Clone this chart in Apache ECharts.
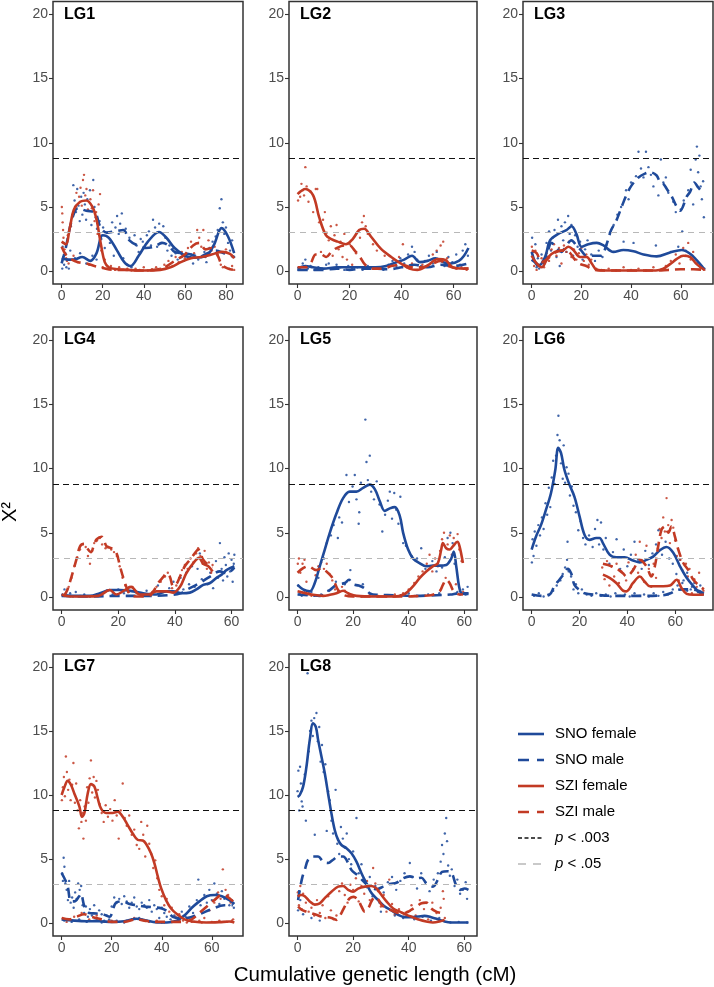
<!DOCTYPE html>
<html><head><meta charset="utf-8">
<script src="https://cdn.jsdelivr.net/npm/echarts@6/dist/echarts.min.js"></script>
<style>html,body{margin:0;padding:0;background:#fff}#c{width:714px;height:987px}</style>
</head><body><div id="c"></div>
<script>
// ---------------- DATA ----------------
const PANEL_NAMES = ['LG1','LG2','LG3','LG4','LG5','LG6','LG7','LG8'];
const PANEL_LENGTH = [84.1, 65.7, 69.5, 61, 61.5, 72.2, 69, 61.5];
const X_TICKS = [0, 20, 40, 60, 80];
const Y_TICKS = [0, 5, 10, 15, 20];
const THRESH_003 = 8.8;
const THRESH_05 = 3.0;
const LEGEND_LABELS = ['SNO female','SNO male','SZI female','SZI male','p < .003','p < .05'];

// LG1
const LG1_SNO_PTS = [[0.3,0.2],[0.8,1.1],[1.2,0.5],[1.8,1.4],[2.3,0.3],[2.9,0.9],[3.5,0.2],[4.2,1.6],[0.5,1.9],[5.2,4.2],[5.7,6.7],[6.3,5.5],[7.0,4.6],[7.6,6.4],[8.2,5.1],[8.8,3.9],[9.5,5.8],[10.1,4.4],[10.7,6.1],[11.3,5.2],[11.9,4.0],[12.5,5.6],[13.2,4.7],[13.8,6.3],[14.5,3.6],[15.4,7.1],[16.0,5.0],[16.6,4.2],[17.2,3.3],[6.5,1.0],[9,1.4],[12,0.6],[15,1.2],[17,0.9],[18.5,3.9],[19.3,2.5],[20.2,3.4],[21.0,1.8],[22.3,3.0],[23.5,2.2],[24.6,3.8],[25.4,1.2],[26.2,3.4],[27.0,4.3],[27.8,2.9],[28.5,3.7],[29.3,4.5],[30.0,1.0],[31.2,3.3],[32,0.5],[33,2.6],[34,0.3],[35.5,2.8],[36.5,2.0],[37.5,1.5],[38.5,2.5],[39.5,2.3],[40.5,1.9],[41.5,2.8],[42.5,3.1],[43.5,2.0],[44.5,4.0],[45.5,3.4],[46.5,1.9],[47.5,3.7],[48.5,2.2],[49.5,3.5],[50.5,2.6],[51.5,1.6],[52.5,2.0],[53.5,1.2],[54.5,1.8],[55.5,1.4],[56.5,0.9],[57.5,1.5],[58.5,1.1],[59.5,0.8],[60.5,1.3],[62,1.0],[63,1.3],[64,0.6],[65,1.2],[66.5,0.9],[68,1.1],[69.5,1.5],[70.5,0.7],[72,1.8],[73.5,2.3],[75,2.7],[76,3.2],[77,4.9],[77.8,5.6],[78.5,3.8],[79.2,2.9],[80,3.4],[81,2.2],[82,1.6],[83,2.4],[84,1.1]];
const LG1_SZI_PTS = [[0.1,5.0],[0.3,4.5],[0.5,3.8],[0.7,3.2],[0.9,2.6],[1.1,2.2],[1.4,1.7],[1.8,1.3],[2.2,1.0],[2.6,0.8],[3,2.8],[3.4,0.6],[4.5,3.5],[5.2,4.4],[5.8,1.2],[6.5,5.0],[7.2,6.1],[7.8,0.7],[8.5,5.8],[9.2,6.5],[9.8,5.1],[10.4,7.1],[10.9,7.5],[11.5,5.9],[12.1,6.4],[12.8,4.8],[13.4,0.5],[14.0,5.6],[14.7,4.9],[15.3,6.3],[16.0,3.9],[16.8,4.6],[17.5,2.9],[18.0,5.2],[18.7,6.0],[19.3,1.6],[20,0.3],[21,0.9],[22,0.2],[24,0.4],[26,0.1],[28,0.3],[30,0.1],[32,0.2],[34,0.05],[36,0.2],[38,0.1],[40,0.3],[42,0.05],[44,0.15],[46,0.3],[48,0.2],[50,0.5],[52,0.8],[54,0.4],[55.5,1.1],[57,0.7],[58.5,1.5],[60,1.0],[61.5,1.8],[63,2.3],[64.5,1.4],[66,3.2],[67,2.6],[68,1.9],[69,3.2],[70,1.1],[71.5,2.4],[73,1.6],[74.5,1.9],[76,1.3],[77.5,0.5],[78.5,0.3],[80,1.7],[81.5,0.2],[83,0.4],[84,0.1]];
const LG1_SNO_F = [[0,1.0],[3,0.9],[6,0.9],[10,1.1],[14,0.8],[17,1.4],[20,2.8],[23,2.6],[27,1.6],[30.5,0.7],[33.5,0.4],[37.5,1.2],[42,2.3],[47.4,3.05],[51,2.6],[55,1.8],[60,1.2],[64,1.05],[70,1.15],[74,2.0],[77.9,3.35],[81,2.7],[84,1.4]];
const LG1_SNO_M = [[0,0.6],[2,1.8],[5,4.0],[8,4.9],[12,4.7],[16,4.6],[19,3.4],[22,3.0],[26,3.1],[30,3.2],[33,2.4],[37,2.0],[41,1.8],[45,1.9],[49,2.2],[52,2.0],[55,1.5],[59,1.4],[63,1.3],[67,1.1],[71,1.4],[75,1.6],[79,1.4],[84,1.1]];
const LG1_SZI_F = [[0,2.3],[2,2.1],[4,3.4],[6,4.8],[9,5.4],[12,5.5],[15,5.0],[17,4.0],[19,2.2],[21,0.7],[23,0.3],[27,0.15],[32,0.1],[40,0.05],[48,0.1],[53,0.3],[58,0.7],[63,1.0],[68,1.1],[73,1.3],[78,1.5],[82,1.35],[84,1.0]];
const LG1_SZI_M = [[0,1.9],[2,1.3],[5,0.9],[8,0.7],[12,0.6],[16,0.4],[20,0.25],[25,0.1],[30,0.1],[38,0.05],[45,0.1],[50,0.3],[55,0.8],[60,1.3],[64,2.0],[67,2.2],[70,1.7],[73,1.8],[76,1.2],[78,0.5],[81,0.2],[84,0.1]];

// LG2
const LG2_SNO_PTS = [[0.3,0.1],[1,0.3],[2,0.6],[3,0.9],[4,0.2],[5,0.4],[6.5,0.1],[8,0.3],[9.5,0.2],[11,0.5],[12,0.6],[13.5,0.2],[15,0.5],[16.5,0.3],[18,0.1],[19.5,0.4],[21,0.2],[23,0.3],[25,0.1],[27,0.4],[29,0.2],[31,0.3],[33,0.1],[35,0.5],[36.5,0.8],[38,0.4],[39.5,1.0],[41,0.6],[42.5,1.3],[44,1.9],[45,1.5],[46,0.9],[47.5,0.4],[49,0.8],[50.5,1.2],[52,0.6],[53.5,1.5],[55,0.9],[56.5,0.4],[58,1.1],[59.5,0.7],[61,1.3],[62.5,0.5],[63.5,1.6],[64.5,2.1],[65.5,1.2]];
const LG2_SZI_PTS = [[0.2,5.5],[0.6,6.1],[1.0,5.8],[1.5,6.8],[2.0,6.3],[2.5,5.9],[3.0,8.1],[3.5,6.6],[4.2,5.4],[5.0,6.2],[6.0,4.6],[7.0,6.4],[7.6,6.4],[8.3,3.8],[9.0,1.5],[9.8,4.0],[10.5,4.6],[11.2,3.0],[12,2.4],[12.8,3.5],[13.5,1.2],[14.2,2.8],[15.0,3.6],[15.8,1.7],[16.5,2.3],[17.3,1.1],[18,2.9],[19,0.9],[20,2.1],[21,0.5],[22.5,1.4],[24,2.6],[24.8,3.8],[25.5,4.3],[26.2,3.5],[27,2.9],[28,0.3],[29,2.1],[30.5,1.6],[32,0.2],[33.5,1.2],[35,0.4],[37,0.9],[39,1.1],[40.5,2.1],[42,0.3],[44,0.6],[46,0.1],[48,0.5],[50,0.8],[52,1.3],[53.5,1.6],[55,2.0],[56,2.3],[57.5,1.0],[59,0.4],[61,0.2],[63,0.3],[65,0.1]];
const LG2_SNO_F = [[0,0.2],[3,0.4],[6,0.3],[10,0.2],[15,0.3],[20,0.3],[25,0.3],[30,0.3],[34,0.4],[38,0.7],[41,0.9],[44,1.2],[47,0.7],[50,0.8],[53,1.0],[56,0.7],[59,0.6],[62,0.8],[64,1.2],[65.7,1.8]];
const LG2_SNO_M = [[0,0.1],[5,0.1],[10,0.1],[15,0.2],[20,0.1],[25,0.2],[30,0.2],[35,0.15],[40,0.3],[45,0.5],[50,0.3],[55,0.5],[60,0.4],[65.7,0.6]];
const LG2_SZI_F = [[0,6.0],[3,6.4],[6,5.9],[8.3,4.2],[10.9,2.8],[13,2.5],[15.4,2.3],[18.6,2.1],[21.2,2.5],[23.7,3.2],[25.6,3.3],[28.2,2.7],[32,1.75],[36,1.1],[39.7,0.6],[43,0.2],[46,0.1],[50,0.45],[54,0.95],[57,0.85],[59.6,0.3],[64,0.2],[65.7,0.2]];
const LG2_SZI_M = [[0,0.3],[3,0.3],[5,0.6],[7,1.3],[9,1.3],[11,1.1],[13,1.5],[15,1.8],[18,2.0],[20,2.0],[22,1.6],[24,1.1],[26,0.5],[29,0.2],[33,0.2],[36,0.4],[40,0.5],[44,0.3],[48,0.3],[52,0.6],[55,0.8],[58,0.4],[62,0.2],[65.7,0.2]];

// LG3
const LG3_SNO_PTS = [[0.2,2.6],[0.6,1.5],[1,0.8],[1.5,2.1],[2,0.3],[2.5,1.0],[3,0.2],[4,1.3],[5,0.9],[6,2.2],[7,3.1],[7.8,1.6],[8.5,2.6],[9.2,3.2],[10,1.1],[10.6,4.0],[11.3,0.4],[12,3.5],[12.7,2.4],[13.4,3.8],[14,1.5],[14.7,4.3],[15.3,2.9],[16,3.6],[16.7,1.2],[17.5,2.8],[18.5,1.9],[19.5,2.3],[20.5,0.9],[21.5,1.7],[22.5,2.4],[24,1.3],[25.5,0.8],[27,1.6],[28.5,1.1],[30,2.0],[31.5,3.0],[33,3.6],[34.5,4.4],[36,5.0],[37,2.3],[38,6.3],[39,5.6],[40,6.9],[41,2.2],[42,7.4],[43,9.3],[44,8.0],[45,7.3],[46,9.3],[47,8.1],[48,7.5],[49,6.6],[50,2.0],[51,5.9],[52,8.7],[53,6.9],[54,7.3],[55,6.1],[56,1.5],[57,5.4],[58,4.6],[59,1.9],[60,4.8],[60.6,3.1],[61.2,5.5],[62,1.6],[63,6.3],[64,7.9],[65,5.2],[66,8.7],[66.5,9.7],[67,7.7],[67.5,9.0],[68,6.6],[68.5,5.6],[69,7.0],[69.3,4.2],[69.5,0.2]];
const LG3_SZI_PTS = [[0.1,1.9],[0.5,1.2],[1,0.4],[1.5,1.6],[2,0.1],[3,0.5],[4,1.0],[5,0.3],[6,1.4],[7,0.8],[8,1.7],[9,2.1],[10,1.2],[11,1.8],[12,0.6],[13,2.0],[14,1.5],[15,2.3],[16,1.1],[17,1.7],[18,0.9],[19,1.4],[20,1.8],[21,0.8],[22,1.3],[23,0.5],[24,0.9],[26,0.2],[28,0.1],[31,0.2],[34,0.05],[37,0.3],[40,0.1],[43,0.2],[46,0.05],[49,0.3],[52,0.1],[54,0.4],[56,0.8],[58,1.3],[59.5,0.6],[61,1.8],[62,1.2],[63,2.2],[64,0.9],[65,1.5],[66.5,0.6],[68,0.3],[69.5,0.1]];
const LG3_SNO_F = [[0,1.5],[2.7,0.4],[5.4,1.1],[7.4,2.4],[10.7,2.9],[14,3.2],[16.1,3.5],[18,2.9],[20.1,1.9],[22.8,2.1],[26.2,2.2],[28.9,2.0],[32.9,1.5],[36.9,1.65],[41,1.55],[45,1.3],[50.3,1.15],[55.7,1.45],[60.4,1.65],[63.8,1.35],[66.4,0.85],[69.5,0.15]];
const LG3_SNO_M = [[0,0.9],[2,0.6],[4,0.3],[6,1.2],[8,2.2],[10,1.8],[12,1.5],[14,2.0],[16,2.4],[18,2.0],[20,1.6],[22,1.2],[25,1.2],[28,1.2],[30,2.0],[32,3.2],[34,3.9],[36.2,5.0],[38.3,6.0],[40.3,6.7],[43,7.3],[45.6,7.6],[47.7,7.7],[50.3,7.45],[51.7,6.9],[53,6.8],[54.4,6.4],[56.4,5.8],[58.4,5.0],[59.7,4.7],[62.4,5.8],[63.8,6.2],[65.4,6.9],[67.1,6.5],[69.3,6.0]];
const LG3_SZI_F = [[0,1.2],[2,0.6],[4,0.3],[6.7,1.1],[9.4,1.5],[12.8,1.65],[14.8,1.9],[16.8,1.65],[19.5,1.1],[22.1,1.1],[24.2,0.6],[26.2,0.1],[30,0.05],[40,0.05],[50,0.05],[53,0.2],[55.7,0.55],[58.4,0.95],[61,1.2],[63.8,1.1],[66.4,0.55],[69.5,0.1]];
const LG3_SZI_M = [[0,1.6],[2,1.4],[4,0.7],[6,0.9],[9,1.4],[12,1.6],[15,1.5],[17,1.0],[19,0.6],[22,0.4],[25,0.1],[30,0.05],[40,0.05],[50,0.05],[55,0.1],[60,0.15],[65,0.15],[69.5,0.1]];

// LG4
const LG4_SNO_PTS = [[0.3,0.2],[1,0.6],[2,0.1],[3,0.3],[4,0.05],[5,0.4],[6.5,0.1],[8,0.2],[10,0.05],[12,0.15],[14,0.3],[16,0.5],[18,0.2],[20,0.6],[22,0.3],[24,0.8],[26,0.4],[28,0.2],[30,0.5],[32,0.3],[34,0.9],[36,0.4],[38,0.7],[39.5,1.2],[41,0.3],[42,1.5],[43,0.6],[44,1.9],[45,1.0],[46,2.4],[47,0.8],[48,2.2],[48.8,3.4],[49.5,1.4],[50.5,2.6],[51.5,1.0],[52.5,1.9],[53.5,0.7],[54.5,2.8],[55.2,1.5],[55.9,4.2],[56.5,2.2],[57,1.3],[57.5,3.1],[58,2.5],[58.5,1.6],[59,3.4],[59.5,2.0],[60,2.9],[60.4,1.2],[60.8,2.6],[61,3.3]];
const LG4_SZI_PTS = [[0.5,0.1],[1.5,0.3],[2.5,0.8],[3.5,1.5],[4.5,2.4],[5.5,3.1],[6.5,3.7],[7.5,4.1],[8.5,3.9],[9.3,3.2],[10,2.6],[10.8,3.6],[11.5,4.2],[12.5,4.4],[13.5,4.6],[14.3,4.1],[15.5,3.8],[16.5,3.9],[17.5,3.7],[18.5,3.5],[19.5,3.2],[20.5,2.4],[21.5,1.5],[22.5,0.9],[23.5,0.4],[25,0.8],[26.5,0.3],[28,0.1],[30,0.2],[32,0.4],[33.5,0.8],[35,1.2],[36.5,1.6],[37.5,1.9],[39,0.7],[40.5,0.9],[41.5,1.5],[42.5,2.1],[43.5,2.5],[44.5,2.2],[45.5,3.0],[46.5,2.7],[47.5,3.4],[48.2,3.8],[49,3.2],[49.8,2.6],[50.5,3.6],[51.3,2.2],[52,2.7],[52.8,1.9],[53.3,2.5]];
const LG4_SNO_F = [[0,0.15],[5,0.1],[10,0.1],[13.5,0.3],[17,0.55],[20.6,0.55],[25.3,0.45],[28.8,0.3],[33.5,0.2],[37,0.45],[39.4,0.45],[42.4,0.3],[45.3,0.35],[47.6,0.6],[50,0.95],[52.4,1.1],[54.7,1.5],[56.5,1.75],[58.2,2.1],[61,2.4]];
const LG4_SNO_M = [[0,0.1],[10,0.05],[20,0.1],[30,0.1],[38,0.15],[42,0.3],[44,0.55],[48.8,1.1],[52.4,1.6],[55.9,2.0],[58.2,1.85],[61,2.3]];
const LG4_SZI_F = [[0,0.2],[3,0.05],[8,0.05],[13,0.1],[17,0.55],[19.4,0.2],[22,0.5],[24.5,0.8],[27.6,0.2],[30.6,0.2],[33.5,0.45],[37,0.45],[39.4,0.35],[41.8,0.8],[44,1.85],[46.5,2.65],[48.5,3.05],[50,2.6],[51.8,2.4],[53.3,2.0]];
const LG4_SZI_M = [[0.6,0.05],[1.8,0.45],[3.5,1.6],[5.3,3.0],[6.5,3.95],[7.9,4.15],[9,3.8],[10.3,3.5],[11.5,4.1],[12.4,4.5],[14.1,4.7],[15.9,3.95],[17.6,3.8],[19.4,3.4],[20.6,2.4],[22,1.35],[23.5,0.45],[24.7,0.1],[28,0.05],[31,0.1],[32.4,0.45],[34.1,1.1],[36,1.6],[37,1.85],[38.2,1.6],[39.4,0.85],[40.5,1.0],[41.8,1.6],[43.5,2.4],[45.3,2.9],[47,3.4],[48.2,3.7],[50,2.9],[51.8,2.5],[53.3,2.3]];

// LG5
const LG5_SNO_PTS = [[0.2,0.9],[0.8,0.3],[1.5,0.1],[2.5,0.5],[3.5,0.2],[5,0.4],[6,0.1],[7.5,1.5],[8.5,0.2],[9.5,3.0],[10.5,4.2],[11,0.5],[12,4.8],[13,5.6],[13.8,1.2],[14.5,4.6],[15,6.2],[16,5.8],[17,1.0],[17.6,9.5],[18.5,7.4],[19,2.1],[19.8,8.6],[20.6,9.5],[21.2,7.6],[22,5.7],[22.2,6.6],[22.8,8.9],[23.5,1.0],[24.4,13.8],[24.8,10.5],[25.3,9.1],[26,11.0],[26.5,8.2],[27.5,7.6],[28.5,9.0],[29.5,7.2],[30.5,5.1],[31.5,6.4],[32.5,7.5],[33.2,8.2],[34,6.1],[34.8,8.1],[35.5,6.8],[36.3,5.7],[37,7.8],[38,4.2],[39,4.0],[40,0.3],[41,3.2],[42,0.1],[43,3.0],[44.5,3.8],[46,2.2],[47,0.2],[48.5,2.8],[50,2.0],[51,0.3],[52,2.3],[53,3.1],[54,4.6],[55,5.0],[55.8,4.2],[56.5,2.6],[57.5,0.4],[58.5,0.2],[59.5,0.6],[60.5,0.2],[61.2,0.8]];
const LG5_SZI_PTS = [[0.1,2.6],[0.5,3.0],[1,1.9],[1.8,2.6],[2.5,2.9],[3.2,1.2],[4,0.3],[5,0.1],[6.5,1.7],[7.5,2.4],[8.5,2.7],[9.5,2.2],[10.5,2.6],[11.5,1.8],[12.5,1.3],[13.5,0.6],[14.5,0.4],[16,0.8],[17,0.5],[18.5,0.2],[20,0.1],[23,0.05],[26,0.2],[29,0.1],[32,0.05],[35,0.2],[38,0.3],[40,0.6],[42,1.1],[43.5,1.6],[45,2.0],[46.5,2.6],[47.5,3.3],[48.5,2.0],[49.5,3.0],[50.5,2.4],[51.3,3.6],[52,4.5],[52.7,5.0],[53.3,1.5],[54,4.1],[54.8,4.8],[55.5,3.3],[56.2,4.6],[57,1.0],[57.6,4.9],[58.2,3.7],[59,2.8],[59.6,0.4]];
const LG5_SNO_F = [[0,0.95],[2,0.6],[4.4,0.45],[6.2,1.1],[8,2.4],[9.8,3.7],[11.6,5.0],[14,6.5],[16.4,7.7],[18.8,8.2],[21.2,8.2],[23.6,8.5],[26,8.75],[27.8,8.4],[29.6,7.45],[31.4,6.7],[33.2,6.9],[35,7.0],[36.8,6.3],[38,5.0],[39.8,3.7],[41.6,3.0],[43.9,2.65],[46.3,2.4],[48.7,2.45],[51.1,2.45],[53.5,2.5],[55.3,3.0],[56.2,3.55],[57.1,2.4],[58.1,0.85],[58.9,0.3],[60,0.25],[61.5,0.25]];
const LG5_SNO_M = [[0,0.2],[4,0.15],[8,0.1],[11.6,0.55],[14,0.95],[17,1.1],[18.5,1.35],[20,1.0],[22,0.9],[24,0.7],[26,0.3],[28.4,0.18],[35,0.15],[42,0.1],[50,0.15],[55,0.2],[58,0.3],[61.5,0.3]];
const LG5_SZI_F = [[0,0.45],[2,0.35],[5.6,0.18],[9.2,0.1],[11.6,0.18],[14,0.3],[16.4,0.5],[18.2,0.3],[21.2,0.1],[28,0.05],[35,0.05],[38,0.18],[39.8,0.45],[41.6,0.85],[44,1.5],[46.3,2.0],[48.7,2.4],[50.5,2.65],[51.7,3.7],[52.3,4.2],[53.5,3.8],[54.7,3.7],[55.9,3.95],[57.5,4.3],[58.3,3.95],[59.5,2.65]];
const LG5_SZI_M = [[0,1.9],[2,2.25],[3.8,2.4],[6.8,2.1],[8.6,2.25],[10.4,2.0],[12.2,1.6],[13.4,1.1],[14.6,0.55],[16.4,0.18],[20,0.05],[30,0.05],[40,0.05],[44,0.1],[48,0.15],[51.1,0.45],[52.3,0.95],[53.5,1.35],[54.7,1.1],[55.9,0.55],[57.1,0.3],[58.3,0.2],[59.5,0.2]];

// LG6
const LG6_SNO_PTS = [[0.1,2.7],[0.4,4.5],[0.8,3.2],[1.3,5.1],[2,4.0],[2.8,5.6],[3.5,4.8],[4.3,6.2],[5,5.3],[5.8,7.3],[6.5,6.4],[7.2,8.5],[7.8,7.0],[8.4,9.3],[9,10.6],[9.6,8.8],[10.2,11.0],[10.8,12.6],[11.2,14.1],[11.7,12.2],[12.3,10.4],[13.0,9.2],[13.4,11.8],[14,8.9],[14.6,10.1],[15,4.3],[15.4,9.6],[16,7.9],[16.8,8.6],[17.5,7.1],[18.5,6.6],[19.5,5.2],[20.5,5.9],[21.5,4.6],[22.5,4.1],[24,4.8],[25.5,3.9],[26.5,5.3],[27.5,6.0],[28.2,4.1],[29,5.8],[30,3.7],[31,4.6],[32.5,2.6],[34,3.5],[35.5,4.5],[37,2.2],[38.5,3.7],[40,2.4],[41.5,3.3],[43,4.3],[44.5,2.9],[46,2.2],[47.5,3.6],[49,2.5],[50.5,3.4],[52,4.1],[53,5.2],[54.5,3.3],[56,4.3],[57.5,3.0],[59,2.6],[60.5,1.8],[62,2.9],[63.5,1.3],[65,1.9],[66.5,0.6],[68,1.1],[69.5,0.4],[70.5,0.9],[71.5,0.2],[1,0.1],[3,0.3],[5,0.05],[7,0.2],[9,0.5],[10.5,0.9],[12,1.3],[13,1.8],[14,2.3],[14.8,2.9],[15.5,2.0],[16.5,1.6],[17.5,0.6],[18.5,1.0],[19.5,0.3],[21,0.6],[23,0.2],[25,0.1],[27,0.3],[29,0.1],[31,0.2],[33,0.05],[35,0.3],[37,0.1],[39,0.2],[41,0.05],[43,0.3],[45,0.1],[47,0.2],[49,0.05],[51,0.3],[53,0.1],[55,0.4],[57,0.2],[59,0.6],[61,0.9],[63,1.1],[65,0.5],[67,0.8]];
const LG6_SZI_PTS = [[29.5,2.3],[30.5,1.4],[31.5,2.8],[32.5,0.9],[33.5,2.4],[34.5,1.6],[35.5,2.6],[36.5,1.1],[37.5,2.0],[38.5,0.5],[39.5,1.3],[40.5,2.7],[41.5,0.8],[42.5,2.2],[43.5,3.3],[44.5,1.9],[45.2,4.3],[46,2.9],[47,1.2],[48,4.0],[49,2.2],[50,0.8],[51,2.6],[52,1.5],[52.8,3.8],[53.5,5.3],[54.3,4.6],[55,6.2],[55.7,5.1],[56.4,7.7],[57.1,5.6],[57.8,4.2],[58.5,6.0],[59.2,5.4],[60,4.4],[60.7,3.2],[61.5,1.3],[62.2,2.9],[63,2.1],[63.8,0.6],[64.5,2.6],[65.3,1.6],[66,2.2],[67,0.3],[68,1.4],[69,0.8],[70,1.9],[71,0.2],[71.8,0.5]];
const LG6_SNO_F = [[0,3.7],[1.8,4.7],[3.9,5.6],[6,6.8],[8.1,8.1],[9.9,9.9],[11.1,11.6],[12.3,11.2],[13.7,9.9],[15.8,8.75],[17.9,7.8],[20,6.3],[22.1,4.85],[24.2,4.45],[27,4.6],[28.4,4.6],[29.8,4.2],[32.6,3.3],[35.4,3.1],[38.9,3.1],[42.4,2.85],[45.2,2.7],[48,2.9],[50.8,3.15],[53.6,3.65],[56.4,3.9],[59.2,3.45],[62,2.4],[64.8,1.5],[67.6,0.85],[70.3,0.35],[72,0.25]];
const LG6_SNO_M = [[0,0.2],[4,0.1],[7.4,0.18],[9.5,0.85],[11.6,1.35],[13.7,1.85],[15.1,2.2],[16.5,1.85],[17.9,0.95],[20,0.55],[22.1,0.3],[27,0.18],[35,0.1],[45,0.1],[55,0.15],[58,0.3],[60.6,0.55],[63.4,0.6],[66.2,0.6],[70.3,0.45],[72,0.25]];
const LG6_SZI_F = [[29.8,1.75],[32.6,1.5],[35.4,1.1],[38.2,0.5],[39.6,0.45],[42.4,1.1],[45.2,1.6],[47.3,1.2],[49.4,0.85],[52.2,0.85],[55,0.85],[57.8,0.9],[60.6,1.35],[62.7,0.7],[64.8,0.25],[67.6,0.18],[70.3,0.18],[72,0.2]];
const LG6_SZI_M = [[29.8,2.6],[32,2.5],[34.5,2.3],[36.5,2.1],[38.2,1.85],[39.6,1.6],[42.4,2.1],[45.2,2.9],[48,2.4],[50,1.6],[51.5,2.4],[52.9,3.95],[54.3,5.25],[55.7,5.5],[57.1,5.0],[58.5,5.5],[59.9,4.7],[61.3,3.7],[63.4,2.65],[65.5,2.1],[67.6,1.35],[70.3,0.85],[72,0.6]];

// LG7
const LG7_SNO_PTS = [[0.2,3.9],[0.5,3.3],[0.8,5.1],[1.1,4.4],[1.5,3.1],[2,2.6],[2.5,1.8],[3,3.3],[3.6,1.6],[4.2,2.0],[4.8,1.2],[5.4,2.4],[6,1.9],[6.6,3.1],[7.2,2.6],[7.8,2.9],[8.4,1.4],[9,0.8],[9.7,1.3],[10.5,0.5],[11.3,1.1],[12.1,0.6],[13,1.4],[14,0.3],[15,1.0],[16,0.7],[17,0.2],[18,0.6],[19,0.3],[20,1.3],[21,2.0],[22,1.6],[23,1.9],[24,1.5],[25,2.1],[26,1.7],[27,1.2],[28,1.6],[29,2.0],[30,1.3],[31,1.1],[32,1.6],[33,1.4],[34,1.2],[35,1.8],[36,0.9],[37,1.4],[38,1.1],[39,0.4],[40,1.2],[41,0.8],[42,0.5],[43.5,0.3],[45,0.6],[46.5,0.2],[48,0.9],[49.5,0.5],[51,1.3],[52.5,0.8],[54,1.8],[54.6,3.4],[55.5,1.4],[57,2.2],[58,1.6],[59,2.6],[60,1.8],[61,3.1],[62,2.3],[63,1.5],[64,2.5],[65,1.9],[66,2.1],[67,1.4],[68,1.8],[68.8,1.2],[1,0.2],[4,0.1],[7,0.3],[10,0.1],[13,0.2],[16,0.05],[19,0.1],[22,0.2],[25,0.05],[28,0.3],[31,0.4],[34,0.2],[37,0.1],[40,0.05],[44,0.1],[47,0.3]];
const LG7_SZI_PTS = [[0.1,9.6],[0.5,10.6],[0.9,11.4],[1.3,9.9],[1.7,13.0],[2.1,11.8],[2.6,10.4],[3.1,11.2],[3.6,9.6],[4.2,10.8],[4.7,12.5],[5.3,9.4],[5.8,10.9],[6.4,8.8],[6.9,7.4],[7.4,9.6],[7.9,7.9],[8.4,8.6],[8.7,6.6],[9.2,9.1],[9.7,8.0],[10.2,10.6],[10.7,9.4],[11.2,11.3],[11.7,12.7],[12.2,10.2],[12.8,11.4],[13.3,9.8],[13.9,11.1],[14.5,10.4],[15.2,9.3],[16,8.6],[16.8,7.9],[17.6,9.2],[18.5,8.3],[19.4,8.9],[20.3,8.0],[21.2,9.6],[22,8.4],[22.8,6.6],[23.6,8.8],[24.4,10.9],[25.2,8.2],[26,7.6],[27,8.4],[28,6.9],[29,7.3],[30,6.1],[31,5.8],[31.8,7.9],[32.6,6.9],[33.4,5.2],[34.2,7.6],[35,6.2],[35.8,5.4],[36.6,4.3],[37.4,4.9],[38.2,3.5],[39,2.6],[40,2.1],[41,1.4],[42,1.9],[43,0.9],[44,1.2],[45.5,0.5],[47,0.7],[48.5,0.2],[50,0.3],[52,0.1],[55,0.2],[57,0.4],[59,1.0],[61,1.6],[62.5,2.4],[63.5,1.9],[64.4,4.2],[65.5,2.6],[66.5,2.2],[67.5,1.6],[68.5,0.3],[2,0.1],[5,0.5],[8,0.8],[11,0.3],[14,0.6],[17,0.1],[20,0.2],[23,0.1],[26,0.2],[29,0.4],[32,0.3],[35,0.1],[38,0.2],[41,0.05],[44,0.1],[47,0.2],[50,0.05],[53,0.1],[56,0.05],[60,0.1],[63,0.2],[66,0.1],[68,0.2]];
const LG7_SNO_F = [[0,0.3],[5,0.2],[10,0.15],[15,0.15],[20,0.1],[25,0.15],[30,0.35],[33,0.25],[38,0.05],[42,0.05],[46,0.2],[49,0.6],[52,1.2],[55,1.7],[58,2.1],[61,2.2],[64,2.1],[67,1.8],[69,1.5]];
const LG7_SNO_M = [[0,3.9],[1.1,3.5],[2.4,2.9],[3.7,1.7],[5.1,1.7],[7,2.1],[7.7,2.3],[9.1,1.3],[11,0.8],[14,0.75],[17,0.65],[19.1,0.5],[21.7,1.6],[24.4,1.7],[27.1,1.5],[30,1.4],[33,1.3],[36,1.25],[40,1.15],[42.4,0.9],[44.4,0.5],[47,0.4],[50,0.4],[55,0.7],[60,1.1],[65,1.4],[68.4,1.4]];
const LG7_SZI_F = [[0,10.0],[1.1,10.6],[2.4,11.1],[3.7,10.8],[5.1,10.1],[7.1,9.1],[8.1,8.3],[9.1,8.6],[10.4,10.1],[11.7,10.85],[13.1,10.65],[14.4,9.75],[15.7,8.95],[17.7,8.6],[20.4,8.6],[22.4,8.7],[24.4,8.3],[26.4,7.65],[28.4,7.0],[30.4,6.5],[32.4,6.45],[33.7,6.2],[35.7,5.45],[37.1,4.65],[38.4,3.65],[39.7,2.75],[41.7,1.8],[43.7,1.15],[46.4,0.65],[49.1,0.3],[52.4,0.13],[57.7,0.05],[63,0.08],[67,0.13],[69,0.05]];
const LG7_SZI_M = [[0,0.4],[3,0.3],[6,0.5],[9,0.7],[12,0.5],[16,0.3],[20,0.1],[25,0.1],[30,0.3],[33,0.2],[38,0.1],[42,0.1],[48,0.1],[52,0.3],[55,0.8],[58,1.3],[61,1.8],[64,2.2],[66,2.1],[68.5,1.7]];

// LG8
const LG8_SNO_PTS = [[0,10.3],[0.3,11.9],[0.6,8.8],[0.9,12.2],[1.2,10.9],[1.5,9.5],[1.8,9.1],[2.2,10.9],[2.6,11.6],[3,8.0],[3.6,19.5],[4,13.4],[4.5,15.0],[5,15.8],[5.5,14.6],[6,16.0],[6.2,6.9],[6.8,16.4],[7.3,14.2],[7.8,15.3],[8.3,12.6],[8.8,13.9],[9.4,11.8],[10,12.4],[10.5,7.2],[11,10.3],[11.6,9.6],[12.2,8.0],[12.8,7.0],[13.7,10.4],[14.3,6.2],[15,5.4],[15.6,7.5],[16.3,6.6],[17,5.9],[17.7,7.0],[18.5,5.0],[19.3,4.6],[20,5.6],[21.2,8.2],[22,3.9],[23,4.6],[24,3.4],[25,2.8],[26,3.6],[27,2.1],[28,2.9],[29.5,1.6],[31,2.4],[32.5,3.2],[34,3.6],[35.5,2.6],[37,3.3],[38.5,3.9],[40.4,4.7],[41.5,3.6],[43,2.7],[44.5,3.9],[46,3.2],[47.5,2.5],[49,3.4],[50.5,3.9],[51.5,4.8],[52,6.1],[52.5,5.4],[53,7.0],[53.5,8.2],[53.8,6.4],[54.2,4.5],[54.8,3.7],[55.5,4.2],[56.5,2.9],[57.5,3.4],[58.5,2.3],[59.5,2.6],[60.5,3.2],[61,1.9],[0.2,1.0],[0.5,2.5],[1,1.8],[2,0.7],[5,0.4],[8,0.2],[30,0.9],[35,0.6],[38,0.4],[42,0.3],[45,0.5],[48,0.2],[51,0.4],[55,0.05],[58,0.1],[61,0.05]];
const LG8_SZI_PTS = [[0.1,2.4],[0.5,1.4],[1,2.9],[1.5,1.1],[2,2.3],[3,1.6],[4,0.9],[5,1.2],[6,0.6],[7,1.8],[8,0.8],[9,1.4],[10,0.4],[11,2.1],[12,1.0],[13,0.3],[14,0.6],[15,2.5],[16,3.1],[17,2.2],[18,1.6],[19,3.0],[20,2.6],[21,3.5],[22,1.7],[23,2.9],[24,2.3],[25,3.3],[26,1.8],[27.2,4.3],[28,3.1],[29,2.5],[30,1.3],[31,2.2],[32,0.9],[33,3.4],[34,1.5],[35,0.7],[36.5,1.1],[38,0.5],[39.5,0.9],[41,1.4],[42.5,0.6],[44,1.8],[45.5,1.1],[47,0.3],[48.5,1.6],[50,0.8],[51.5,1.2],[52.3,2.5],[52.6,1.9],[53,0.4]];
const LG8_SNO_F = [[0,9.85],[0.8,10.0],[2,10.65],[3.2,12.2],[4.4,14.3],[5.6,15.6],[6.6,15.3],[7.4,14.3],[8.6,13.0],[9.8,11.7],[11,10.1],[12.2,8.55],[13.4,7.25],[14.6,6.5],[15.8,6.1],[17.6,5.85],[19.4,5.45],[21.2,4.8],[23,3.9],[24.8,3.1],[26.6,2.35],[29,1.8],[31.4,1.3],[33.8,1.0],[36.2,0.65],[38.6,0.47],[41,0.47],[43.4,0.52],[45.7,0.57],[48.1,0.47],[50.5,0.31],[52.9,0.13],[55.3,0.05],[59.5,0.05],[61.5,0.05]];
const LG8_SNO_M = [[0.2,1.8],[0.8,2.6],[1.8,3.65],[2.6,4.15],[3.8,4.95],[5.6,5.2],[7.4,5.2],[9.2,4.8],[11,4.7],[12.8,4.95],[14.6,5.2],[16.4,5.2],[18.2,4.7],[19.4,4.15],[21.8,3.7],[24,3.2],[26,2.85],[28.4,2.65],[30.8,2.85],[33.2,3.05],[35.6,3.15],[38,3.5],[40.4,3.65],[42.8,3.5],[44.6,3.55],[46.4,3.1],[48.7,2.85],[50.5,3.4],[52,4.0],[54,4.05],[55.5,3.9],[57,3.0],[58.5,2.6],[60.1,2.7],[61.5,2.6]];
const LG8_SZI_F = [[0,2.1],[1.4,2.2],[2.6,2.1],[4.4,1.7],[6.2,1.45],[8,1.55],[9.8,1.95],[12.2,2.45],[14.6,2.85],[16.4,2.9],[18.2,2.6],[20,2.45],[21.8,2.7],[24.2,2.85],[26.6,2.9],[28.4,2.7],[30.2,2.2],[32,1.7],[34.4,1.15],[36.8,0.9],[39.2,0.65],[41.6,0.45],[43.9,0.26],[46.3,0.13],[48.7,0.05],[51.1,0.13],[52.9,0.26]];
const LG8_SZI_M = [[0.2,1.3],[1.4,1.05],[3.2,0.9],[5,0.78],[6.8,0.65],[8.6,0.52],[10.4,0.47],[12.2,0.4],[14,0.26],[15.2,0.57],[16.4,1.05],[17.6,1.55],[18.8,1.95],[20.2,2.05],[21.8,1.8],[23,1.3],[24.2,0.9],[25.4,1.15],[26.6,1.7],[27.8,2.05],[29,1.85],[30.2,1.45],[32,1.15],[33.8,1.0],[35.6,0.83],[37.4,0.78],[39.2,0.83],[41,1.05],[42.8,1.3],[44.6,1.55],[46.3,1.6],[48.1,1.15],[49.9,0.9],[51.7,0.78],[52.9,0.65]];

// ---------------- CHART ----------------
const PANEL_DATA = [
  [LG1_SNO_PTS, LG1_SZI_PTS, LG1_SNO_F, LG1_SNO_M, LG1_SZI_F, LG1_SZI_M],
  [LG2_SNO_PTS, LG2_SZI_PTS, LG2_SNO_F, LG2_SNO_M, LG2_SZI_F, LG2_SZI_M],
  [LG3_SNO_PTS, LG3_SZI_PTS, LG3_SNO_F, LG3_SNO_M, LG3_SZI_F, LG3_SZI_M],
  [LG4_SNO_PTS, LG4_SZI_PTS, LG4_SNO_F, LG4_SNO_M, LG4_SZI_F, LG4_SZI_M],
  [LG5_SNO_PTS, LG5_SZI_PTS, LG5_SNO_F, LG5_SNO_M, LG5_SZI_F, LG5_SZI_M],
  [LG6_SNO_PTS, LG6_SZI_PTS, LG6_SNO_F, LG6_SNO_M, LG6_SZI_F, LG6_SZI_M],
  [LG7_SNO_PTS, LG7_SZI_PTS, LG7_SNO_F, LG7_SNO_M, LG7_SZI_F, LG7_SZI_M],
  [LG8_SNO_PTS, LG8_SZI_PTS, LG8_SNO_F, LG8_SNO_M, LG8_SZI_F, LG8_SZI_M]
];

const FONT = '"Liberation Sans", Arial, Helvetica, sans-serif';
const BLUE = '#1f4a9a';
const RED = '#c23a24';
const DASH = [10, 6];
const colL = [53, 289, 523], colW = [190, 188, 190];
const rowT = [1.5, 327, 654], rowH = [282.5, 283, 282];

const grids = [], xAxes = [], yAxes = [], series = [], graphics = [];

PANEL_NAMES.forEach((name, i) => {
  const c = i % 3, r = Math.floor(i / 3);
  const R = PANEL_LENGTH[i];
  grids.push({left: colL[c], top: rowT[r], width: colW[c], height: rowH[r], show: true,
    borderColor: '#333', borderWidth: 1.5, backgroundColor: '#fff', containLabel: false});
  const xt = X_TICKS.filter(v => v <= R);
  xAxes.push({gridIndex: i, type: 'value', position: 'bottom', min: -0.05 * R, max: 1.05 * R,
    axisLine: {show: false, onZero: false}, splitLine: {show: false},
    axisTick: {show: true, inside: false, length: 4, customValues: xt, lineStyle: {color: '#333', width: 1.1}},
    axisLabel: {customValues: xt, color: '#4d4d4d', fontSize: 14, fontFamily: FONT, margin: 5}});
  yAxes.push({gridIndex: i, type: 'value', position: 'left', min: -1, max: 21,
    axisLine: {show: false, onZero: false}, splitLine: {show: false},
    axisTick: {show: true, inside: false, length: 4, customValues: Y_TICKS, lineStyle: {color: '#333', width: 1.1}},
    axisLabel: {customValues: Y_TICKS, color: '#4d4d4d', fontSize: 14, fontFamily: FONT, margin: 5}});
  const d = PANEL_DATA[i];
  series.push({type: 'scatter', xAxisIndex: i, yAxisIndex: i, data: d[0], symbol: 'circle', symbolSize: 2.4,
    itemStyle: {color: BLUE, opacity: 0.85}, silent: true, z: 2,
    markLine: {silent: true, symbol: ['none', 'none'], label: {show: false}, animation: false,
      data: [
        {yAxis: THRESH_05, lineStyle: {color: '#b8b8b8', width: 1.1, type: [6, 5]}},
        {yAxis: THRESH_003, lineStyle: {color: '#111', width: 1.2, type: [6, 4]}}
      ]}});
  series.push({type: 'scatter', xAxisIndex: i, yAxisIndex: i, data: d[1], symbol: 'circle', symbolSize: 2.4,
    itemStyle: {color: RED, opacity: 0.85}, silent: true, z: 2});
  const lineDefs = [[d[2], BLUE, 'solid'], [d[3], BLUE, DASH], [d[4], RED, 'solid'], [d[5], RED, DASH]];
  lineDefs.forEach(([dat, col, typ]) => {
    series.push({type: 'line', xAxisIndex: i, yAxisIndex: i, data: dat, showSymbol: false, smooth: 0.35,
      silent: true, z: 3, lineStyle: {color: col, width: 2.6, type: typ}});
  });
  graphics.push({type: 'text', x: colL[c] + 11, y: rowT[r] + 13, silent: true,
    style: {text: name, font: 'bold 16px ' + FONT, fill: '#000', align: 'left', verticalAlign: 'middle'}});
});

// axis titles
graphics.push({type: 'text', x: 10, y: 512, rotation: Math.PI / 2, silent: true,
  style: {text: 'X\u00B2', font: '20px ' + FONT, fill: '#000', align: 'center', verticalAlign: 'middle'}});
graphics.push({type: 'text', x: 375, y: 975, silent: true,
  style: {text: 'Cumulative genetic length (cM)', font: '20.5px ' + FONT, fill: '#000', align: 'center', verticalAlign: 'middle'}});

// legend
const legY = [734, 760, 786, 812, 838, 864];
const legStyles = [
  {stroke: BLUE, lineWidth: 2.6},
  {stroke: BLUE, lineWidth: 2.6, lineDash: [11, 8]},
  {stroke: RED, lineWidth: 2.6},
  {stroke: RED, lineWidth: 2.6, lineDash: [11, 8]},
  {stroke: '#111', lineWidth: 1.3, lineDash: [4, 2.5]},
  {stroke: '#b8b8b8', lineWidth: 1.3, lineDash: [8, 7]}
];
LEGEND_LABELS.forEach((lab, k) => {
  graphics.push({type: 'line', silent: true, shape: {x1: 518, y1: legY[k], x2: 544, y2: legY[k]}, style: legStyles[k]});
  let txt = lab, rich;
  if (lab.startsWith('p ')) {
    txt = '{i|p}' + lab.slice(1);
    rich = {i: {fontStyle: 'italic', fontFamily: FONT, fontSize: 15, fill: '#000'}};
  }
  graphics.push({type: 'text', x: 555, y: legY[k], silent: true,
    style: {text: txt, rich: rich, font: '15px ' + FONT, fontSize: 15, fontFamily: FONT, fill: '#000', align: 'left', verticalAlign: 'middle'}});
});

const chart = echarts.init(document.getElementById('c'), null, {renderer: 'canvas'});
chart.setOption({
  animation: false,
  backgroundColor: '#fff',
  grid: grids, xAxis: xAxes, yAxis: yAxes, series: series,
  graphic: {elements: graphics}
});
</script></body></html>
